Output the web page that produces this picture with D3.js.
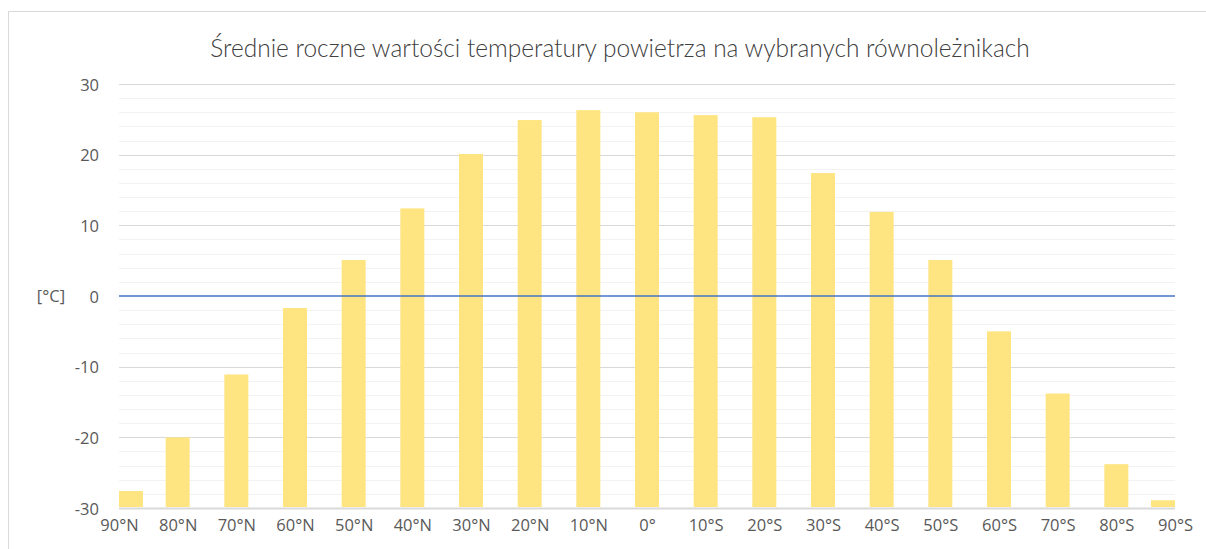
<!DOCTYPE html>
<html>
<head>
<meta charset="utf-8">
<script src="https://cdn.jsdelivr.net/npm/d3@7"></script>
<style>
	html, body { margin: 0; padding: 0; background: #fff; overflow: hidden; }
	svg { display: block; overflow: visible; font-family: "Open Sans", Lato, sans-serif; }
	.tick text { fill: #595959; font-size: 16.5px; font-family: "Open Sans", sans-serif; }
</style>
</head>
<body>
<div id="chart"></div>
<script>
// data
const categories = ["90°N","80°N","70°N","60°N","50°N","40°N","30°N","20°N","10°N","0°",
	"10°S","20°S","30°S","40°S","50°S","60°S","70°S","80°S","90°S"];
const temps = [-27.6,-20.0,-11.1,-1.7,5.1,12.4,20.1,24.9,26.3,26.0,
	25.6,25.3,17.4,11.9,5.1,-5.0,-13.8,-23.8,-28.9];
const yTicks = [-30,-20,-10,0,10,20,30];
const minorTicks = [-28,-26,-24,-22,-18,-16,-14,-12,-8,-6,-4,-2,2,4,6,8,12,14,16,18,22,24,26,28];
const title = "Średnie roczne wartości temperatury powietrza na wybranych równoleżnikach";
const unit = "[°C]";

let width = 1206, height = 549;
let margin = { top: 84, left: 119, right: 31, bottom: 41 };
let innerWidth = width - margin.left - margin.right;
let innerHeight = height - margin.top - margin.bottom;
let barWidth = 24;

let svg = d3.select("#chart").append("svg")
	.attr("width", width)
	.attr("height", height);

// chart frame (only top and left edges are in view)
svg.append("path")
	.attr("d", "M8.5," + height + "V11.5H" + width)
	.attr("fill", "none")
	.attr("stroke", "#d9d9d9");

let g = svg.append("g")
	.attr("transform", "translate(" + margin.left + "," + margin.top + ")");

let x = d3.scalePoint().domain(categories).range([0, innerWidth]);
let y = d3.scaleLinear().domain([-30, 30]).range([innerHeight, 0]);

// minor gridlines
g.selectAll(".minor").data(minorTicks).enter().append("line")
	.attr("class", "minor")
	.attr("x1", 0).attr("x2", innerWidth)
	.attr("y1", d => Math.round(y(d)) + 0.5).attr("y2", d => Math.round(y(d)) + 0.5)
	.attr("stroke", "#f2f2f2");

// major gridlines
g.selectAll(".major").data(yTicks.filter(d => d !== 0)).enter().append("line")
	.attr("class", "major")
	.attr("x1", 0).attr("x2", innerWidth)
	.attr("y1", d => Math.round(y(d)) + 0.5).attr("y2", d => Math.round(y(d)) + 0.5)
	.attr("stroke", "#d9d9d9")
	.attr("stroke-width", d => d === -30 ? 2 : 1);

// bars, growing from the bottom of the axis
g.selectAll(".bar").data(temps).enter().append("rect")
	.attr("class", "bar")
	.attr("x", (d, i) => Math.max(0, Math.min(innerWidth - barWidth, x(categories[i]) - barWidth / 2)))
	.attr("y", d => y(d))
	.attr("width", barWidth)
	.attr("height", d => y(-30) - y(d) - 1)
	.attr("fill", "#fee581");

// zero line
g.append("line")
	.attr("x1", 0).attr("x2", innerWidth)
	.attr("y1", y(0)).attr("y2", y(0))
	.attr("stroke", "#4472c4")
	.attr("stroke-width", 1.5);

// axes (labels only)
let yAxis = d3.axisLeft(y).tickValues(yTicks).tickSize(0).tickPadding(20).tickFormat(d3.format("d"));
g.append("g").attr("class", "y-axis").call(yAxis)
	.call(a => a.select(".domain").remove())
	.selectAll("text").attr("dy", "0.38em").text(d => d < 0 ? "-" + Math.abs(d) : d);

let xAxis = d3.axisBottom(x).tickSize(0).tickPadding(9);
g.append("g").attr("class", "x-axis")
	.attr("transform", "translate(0," + innerHeight + ")")
	.call(xAxis)
	.call(a => a.select(".domain").remove())
	.selectAll("text").attr("dy", "0.85em");

// unit label
svg.append("text")
	.attr("x", 51).attr("y", y(0) + margin.top)
	.attr("dy", "0.38em")
	.attr("text-anchor", "middle")
	.attr("fill", "#595959")
	.style("font-size", "16.5px")
	.text(unit);

// title
let t = svg.append("text")
	.attr("x", 620).attr("y", 57)
	.attr("text-anchor", "middle")
	.attr("fill", "#404040")
	.style("font-family", "Lato, sans-serif")
	.style("font-size", "20px")
	.style("font-weight", 300)
	.text(title);
let tw = t.node().getComputedTextLength();
t.style("font-size", (20 * 820 / tw).toFixed(2) + "px");
</script>
</body>
</html>
